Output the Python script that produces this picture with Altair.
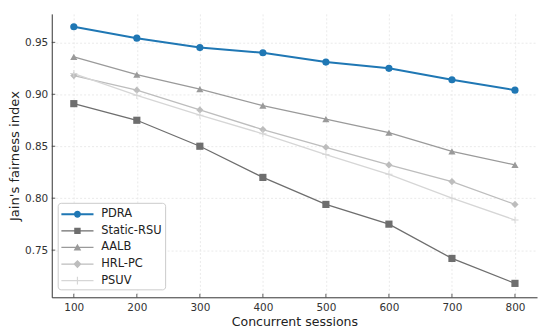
import altair as alt
import pandas as pd

sessions = [100, 200, 300, 400, 500, 600, 700, 800]
series_names = ["PDRA", "Static-RSU", "AALB", "HRL-PC", "PSUV"]
pdra = [0.965, 0.954, 0.945, 0.940, 0.931, 0.925, 0.914, 0.904]
static_rsu = [0.891, 0.875, 0.850, 0.820, 0.794, 0.775, 0.742, 0.718]
aalb = [0.936, 0.919, 0.905, 0.889, 0.876, 0.863, 0.845, 0.832]
hrl_pc = [0.918, 0.904, 0.885, 0.866, 0.849, 0.832, 0.816, 0.794]
psuv = [0.920, 0.899, 0.880, 0.862, 0.842, 0.823, 0.800, 0.779]
x_ticks = [100, 200, 300, 400, 500, 600, 700, 800]
y_ticks = [0.75, 0.80, 0.85, 0.90, 0.95]

colors = ["#1f77b4", "#6e6e6e", "#9a9a9a", "#bdbdbd", "#d6d6d6"]
widths = [2.0, 1.3, 1.3, 1.3, 1.3]

rows = []
for name, vals, w in zip(series_names, [pdra, static_rsu, aalb, hrl_pc, psuv], widths):
    for s, v in zip(sessions, vals):
        rows.append({"x": s, "jfi": v, "series": name, "w": w})
df = pd.DataFrame(rows)

xscale = alt.Scale(domain=[65, 835], nice=False, zero=False)
yscale = alt.Scale(domain=[0.7046, 0.9774], nice=False, zero=False)

plus_path = "M-0.12,-1H0.12V-0.12H1V0.12H0.12V1H-0.12V0.12H-1V-0.12H-0.12Z"
plot_shapes = ["circle", "square", "triangle-up", "diamond", plus_path]


def leg_path(marker, half):
    line = f"M-0.92,{-half}H2.88V{half}H-0.92Z"
    return line + marker


cx, r = 0.98, 0.41
circle_m = f"M{cx - r},0A{r},{r} 0 1,1 {cx + r},0A{r},{r} 0 1,1 {cx - r},0Z"
square_m = "M0.6,-0.38H1.36V0.38H0.6Z"
tri_m = "M0.98,-0.45L1.43,0.35L0.53,0.35Z"
diam_m = "M0.98,-0.48L1.46,0L0.98,0.48L0.5,0Z"
plus_m = "M0.91,-0.46H1.05V-0.07H1.44V0.07H1.05V0.46H0.91V0.07H0.52V-0.07H0.91Z"
legend_shapes = [
    leg_path(circle_m, 0.118),
    leg_path(square_m, 0.076),
    leg_path(tri_m, 0.076),
    leg_path(diam_m, 0.076),
    leg_path(plus_m, 0.076),
]

base = alt.Chart(df)

x_enc = alt.X(
    "x:Q", scale=xscale, title="Concurrent sessions",
    axis=alt.Axis(values=x_ticks, tickSize=0, labelPadding=5, titlePadding=3, format="d",
                  titleFontSize=12.6),
)
y_enc = alt.Y(
    "jfi:Q", scale=yscale, title="Jain's fairness index",
    axis=alt.Axis(values=y_ticks, tickSize=0, labelPadding=4, titlePadding=3, format=".2f",
                  titleFontSize=13.2),
)

lines = base.mark_line().encode(
    x=x_enc,
    y=y_enc,
    color=alt.Color("series:N", scale=alt.Scale(domain=series_names, range=colors), legend=None),
    strokeWidth=alt.StrokeWidth("w:Q", scale=None, legend=None),
    detail="series:N",
)

points = base.mark_point(filled=True, opacity=1, size=52).encode(
    x="x:Q",
    y="jfi:Q",
    color=alt.Color("series:N", scale=alt.Scale(domain=series_names, range=colors), legend=None),
    shape=alt.Shape("series:N", scale=alt.Scale(domain=series_names, range=plot_shapes), legend=None),
)

legend_layer = base.transform_filter("datum.x < 0").mark_point(
    filled=True, opacity=1, size=289
).encode(
    x="x:Q",
    y="jfi:Q",
    color=alt.Color(
        "series:N",
        scale=alt.Scale(domain=series_names, range=colors),
        legend=alt.Legend(
            orient="none", legendX=6, legendY=190, title=None,
            symbolSize=289, labelOffset=23.7, padding=3, rowPadding=2.7,
            fillColor="white", strokeColor="#cccccc", cornerRadius=3,
            labelFontSize=11.5, labelColor="#222222", symbolStrokeWidth=0,
            labelFont="DejaVu Sans",
        ),
    ),
    shape=alt.Shape("series:N", scale=alt.Scale(domain=series_names, range=legend_shapes)),
)

xt = alt.Chart(pd.DataFrame({"x": x_ticks})).mark_rule(color="#333333", strokeWidth=0.8).encode(
    x="x:Q", y=alt.value(285), y2=alt.value(281.5)
)
yt = alt.Chart(pd.DataFrame({"jfi": y_ticks})).mark_rule(color="#333333", strokeWidth=0.8).encode(
    y="jfi:Q", x=alt.value(0), x2=alt.value(3.5)
)

chart = (
    alt.layer(lines, points, legend_layer, xt, yt)
    .resolve_scale(color="independent", shape="independent")
    .properties(
        width=488, height=285,
        autosize=alt.AutoSizeParams(type="none"),
        padding={"left": 44, "top": 5, "right": 5, "bottom": 36},
    )
    .configure_view(stroke=None)
    .configure_axis(
        domainColor="#333333", domainWidth=1,
        gridColor="#e4e4e4", gridDash=[2, 2], gridWidth=0.8,
        labelFont="DejaVu Sans", labelFontSize=10.5, labelColor="#333333",
        titleFont="DejaVu Sans", titleFontWeight="normal", titleColor="#222222",
    )
)

chart.save("out.html", embed_options={"renderer": "svg", "actions": False})
